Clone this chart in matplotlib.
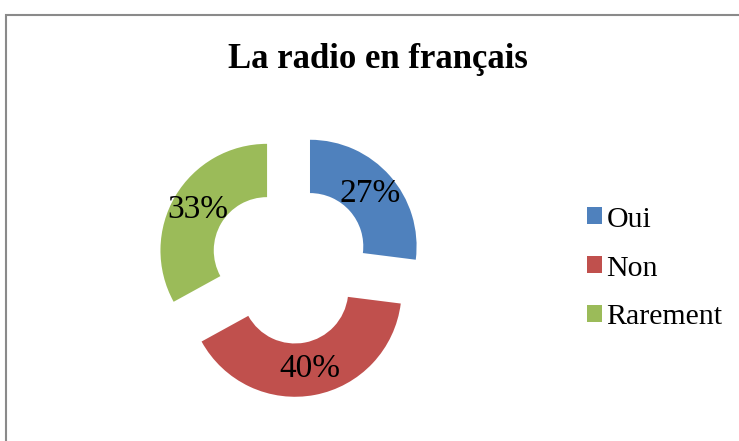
import matplotlib.pyplot as plt
from matplotlib.patches import Rectangle

labels = ['Oui', 'Non', 'Rarement']
values = [27, 40, 33]
colors = ['#4F81BD', '#C0504D', '#9BBB59']
title = 'La radio en français'

plt.rcParams['font.family'] = ['Liberation Serif', 'DejaVu Serif']

W, H = 739, 441
fig = plt.figure(figsize=(W / 100, H / 100), dpi=100)

# cadre gris (seuls les bords gauche et haut sont visibles)
fig.patches.append(Rectangle((5.5 / W, -0.1), 2.0, (H - 14.5) / H + 0.1,
                             transform=fig.transFigure, fill=False,
                             ec='#8a8a8a', lw=1.5, clip_on=False))

# anneau : centre ~ (290, 264) px, rayon ~ 106.6 px
R = 106.6
cx, cy = 290, H - 264
half = 1.5 * R
ax = fig.add_axes([(cx - half) / W, (cy - half) / H, 2 * half / W, 2 * half / H])

wedges, texts, autotexts = ax.pie(
    values, colors=colors, explode=[0.25] * 3, startangle=90,
    counterclock=False, autopct='%1.0f%%', pctdistance=0.75,
    wedgeprops=dict(width=0.5, linewidth=0),
    textprops=dict(fontsize=24, color='black'))
ax.set_xlim(-1.5, 1.5)
ax.set_ylim(-1.5, 1.5)
ax.set_aspect('auto')
ax.axis('off')

fig.text(377.5 / W, (H - 68) / H, title, ha='center', va='baseline',
         fontsize=25, fontweight='bold')

fig.legend(wedges, labels, loc='center left',
           bbox_to_anchor=(587 / W, (H - 268.5) / H),
           frameon=False, fontsize=21.5, handlelength=0.5, handleheight=0.5,
           handletextpad=0.15, labelspacing=0.77, borderpad=0, borderaxespad=0)

fig.savefig('out.png', dpi=100, facecolor='white')
